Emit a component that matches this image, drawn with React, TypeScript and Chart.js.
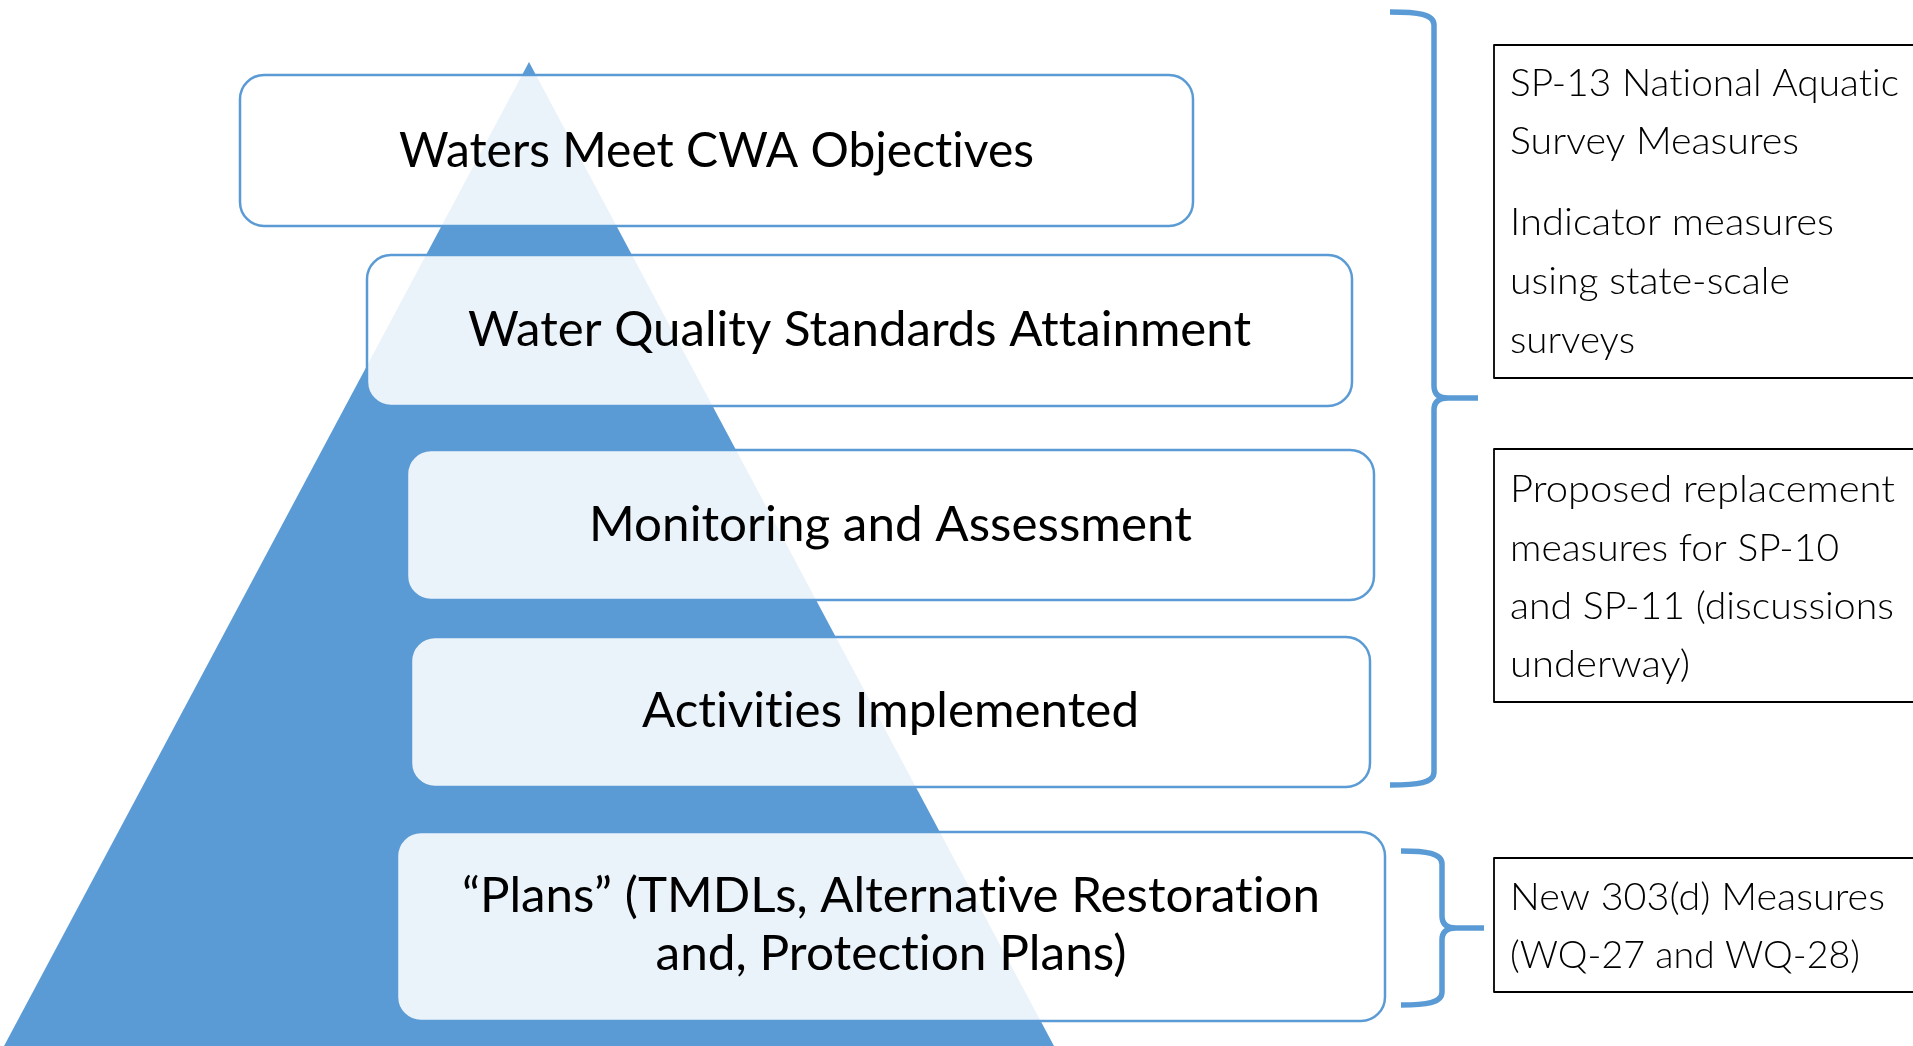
import React, { useEffect, useRef } from "react";
import { Chart, registerables } from "chart.js";

Chart.register(...registerables);

const W = 1913;
const H = 1046;

// Pyramid (triangle) vertices in diagram units
const pyramidX = [529, 1054, 4, 529];
const pyramidY = [62, 1046, 1046, 62];

// Tiers (rounded boxes)
const tierLabels: string[][] = [
  ["Waters Meet CWA Objectives"],
  ["Water Quality Standards Attainment"],
  ["Monitoring and Assessment"],
  ["Activities Implemented"],
  ["\u201CPlans\u201D (TMDLs, Alternative Restoration", "and, Protection Plans)"],
];
const tierX0 = [240, 367, 407, 411, 397];
const tierX1 = [1193, 1352, 1374, 1370, 1385];
const tierY0 = [75, 255, 450, 637, 832];
const tierY1 = [226, 406, 600, 787, 1021];
const tierTextWidths = [[635], [783], [603], [497], [858, 471]];
const tierBaselines = [[167], [346], [541], [727], [912, 970]];

// Measure boxes on the right
const measureLines: string[][] = [
  ["SP-13 National Aquatic", "Survey Measures", "Indicator measures", "using state-scale", "surveys"],
  ["Proposed replacement", "measures for SP-10", "and SP-11 (discussions", "underway)"],
  ["New 303(d) Measures", "(WQ-27 and WQ-28)"],
];
const measureWidths = [
  [389, 289, 324, 280, 125],
  [385, 329, 384, 180],
  [375, 350],
];
const measureBaselines = [
  [96, 154, 235, 294, 353],
  [502, 561, 619, 677],
  [910, 968],
];
const measureY0 = [45, 449, 858];
const measureY1 = [378, 702, 992];
const measureX0 = [1494, 1494, 1494];
const measureTextX = [1510, 1510, 1510];

// Braces
const braceArmX = [1390, 1401];
const braceSpineX = [1434, 1442];
const braceTipX = [1478, 1484];
const braceTop = [12, 851];
const braceMid = [398, 928];
const braceBottom = [785, 1005];

const BLUE = "#5B9BD5";

export default function App() {
  const ref = useRef<HTMLCanvasElement>(null);

  useEffect(() => {
    document.body.style.margin = "0";
    document.body.style.overflow = "hidden";
    const canvas = ref.current!;

    const overlay = {
      id: "diagramOverlay",
      afterDatasetsDraw(chart: any) {
        const ctx: any = chart.ctx;
        const xs = chart.scales.x;
        const ys = chart.scales.y;
        const px = (v: number) => xs.getPixelForValue(v);
        const py = (v: number) => ys.getPixelForValue(v);

        ctx.save();
        try {
          ctx.letterSpacing = "0.01px";
        } catch (e) {}

        // Tier boxes
        tierLabels.forEach((lines, i) => {
          const x0 = px(tierX0[i]);
          const x1 = px(tierX1[i]);
          const y0 = py(tierY0[i]);
          const y1 = py(tierY1[i]);
          ctx.beginPath();
          ctx.roundRect(x0, y0, x1 - x0, y1 - y0, 24);
          ctx.fillStyle = "rgba(255,255,255,0.88)";
          ctx.fill();
          ctx.lineWidth = 2.5;
          ctx.strokeStyle = BLUE;
          ctx.stroke();

          const cx = (x0 + x1) / 2;
          ctx.font = "47.5px Lato, 'Open Sans', sans-serif";
          ctx.fillStyle = "#000";
          ctx.textAlign = "center";
          ctx.textBaseline = "alphabetic";
          lines.forEach((line, j) => {
            const m = ctx.measureText(line).width;
            const s = tierTextWidths[i][j] / m;
            ctx.save();
            ctx.translate(cx, py(tierBaselines[i][j]));
            ctx.scale(s, 1);
            ctx.fillText(line, 0, 0);
            ctx.restore();
          });
        });

        // Braces
        ctx.strokeStyle = BLUE;
        ctx.lineWidth = 5.5;
        ctx.lineJoin = "round";
        ctx.lineCap = "butt";
        braceTop.forEach((_, i) => {
          const arm = px(braceArmX[i]);
          const sp = px(braceSpineX[i]);
          const tip = px(braceTipX[i]);
          const t = py(braceTop[i]);
          const m = py(braceMid[i]);
          const b = py(braceBottom[i]);
          ctx.beginPath();
          ctx.moveTo(arm, t);
          ctx.bezierCurveTo(sp - 16, t, sp, t + 2, sp, t + 13);
          ctx.lineTo(sp, m - 12);
          ctx.quadraticCurveTo(sp, m, sp + 14, m);
          ctx.lineTo(tip, m);
          ctx.moveTo(sp + 14, m);
          ctx.quadraticCurveTo(sp, m, sp, m + 12);
          ctx.lineTo(sp, b - 13);
          ctx.bezierCurveTo(sp, b - 2, sp - 16, b, arm, b);
          ctx.stroke();
        });

        // Measure boxes
        ctx.font = "300 37.7px Lato, 'Open Sans', sans-serif";
        measureLines.forEach((lines, i) => {
          const x0 = px(measureX0[i]);
          const y0 = py(measureY0[i]);
          const y1 = py(measureY1[i]);
          ctx.beginPath();
          ctx.rect(x0, y0, px(W + 40) - x0, y1 - y0);
          ctx.fillStyle = "#fff";
          ctx.fill();
          ctx.lineWidth = 1.8;
          ctx.strokeStyle = "#000";
          ctx.stroke();
          ctx.fillStyle = "#000";
          ctx.textAlign = "left";
          ctx.textBaseline = "alphabetic";
          lines.forEach((line, j) => {
            const m = ctx.measureText(line).width;
            const s = measureWidths[i][j] / m;
            ctx.save();
            ctx.translate(px(measureTextX[i]), py(measureBaselines[i][j]));
            ctx.scale(s, 1);
            ctx.fillText(line, 0, 0);
            ctx.restore();
          });
        });

        ctx.restore();
      },
    };

    const chart = new Chart(canvas, {
      type: "scatter",
      data: {
        datasets: [
          {
            data: pyramidX.map((x, i) => ({ x, y: pyramidY[i] })),
            showLine: true,
            fill: "shape",
            backgroundColor: BLUE,
            borderColor: BLUE,
            borderWidth: 0,
            pointRadius: 0,
            tension: 0,
          } as any,
        ],
      },
      options: {
        animation: false,
        responsive: false,
        devicePixelRatio: 1,
        events: [],
        layout: { padding: 0 },
        scales: {
          x: { type: "linear", min: 0, max: W, display: false },
          y: { type: "linear", min: 0, max: H, reverse: true, display: false },
        },
        plugins: {
          legend: { display: false },
          tooltip: { enabled: false },
        },
      },
      plugins: [overlay],
    });

    return () => chart.destroy();
  }, []);

  return (
    <div style={{ position: "fixed", left: 0, top: 0, width: W, height: H, background: "#fff" }}>
      <canvas ref={ref} width={W} height={H} style={{ display: "block", width: W, height: H }} />
    </div>
  );
}
